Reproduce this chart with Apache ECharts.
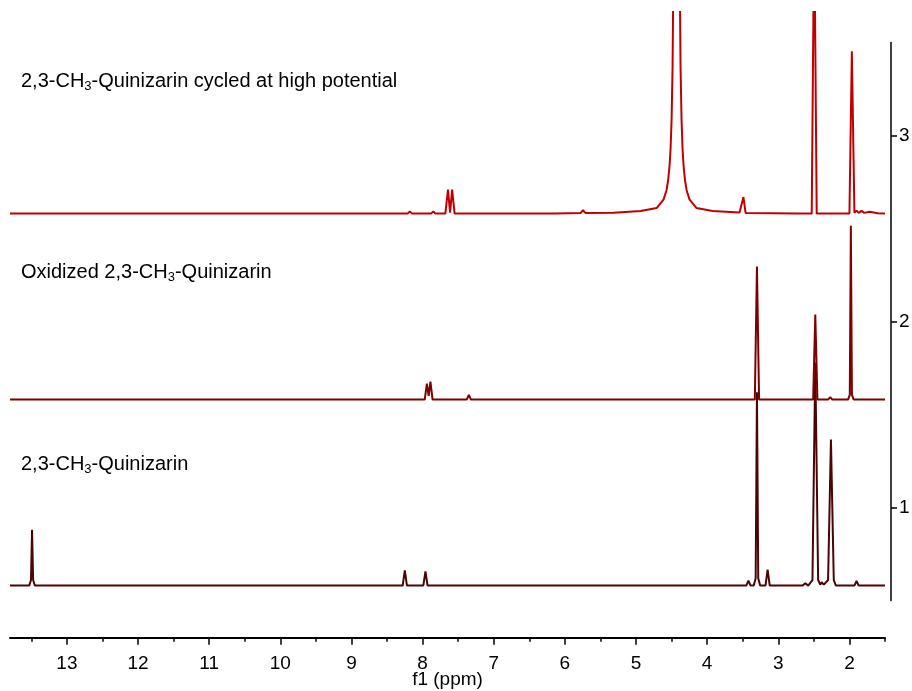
<!DOCTYPE html>
<html><head><meta charset="utf-8">
<script src="https://cdn.jsdelivr.net/npm/echarts@6/dist/echarts.min.js"></script>
<style>html,body{margin:0;padding:0;background:#fff}#c{width:912px;height:691px}</style>
</head><body><div id="c"></div>
<script>
// x-axis tick values (ppm)
const ppmMajorTicks = [2, 3, 4, 5, 6, 7, 8, 9, 10, 11, 12, 13];
const ppmMinorTicks = [1.5, 2.5, 3.5, 4.5, 5.5, 6.5, 7.5, 8.5, 9.5, 10.5, 11.5, 12.5, 13.5];
const offsetTicks = [1, 2, 3];

// trace labels (bottom to top)
const traceNames = ['2,3-CH3-Quinizarin', 'Oxidized 2,3-CH3-Quinizarin', '2,3-CH3-Quinizarin cycled at high potential'];
// stacking offsets of each trace baseline
const traceBaselines = [0.58, 1.58, 2.58];

// [ppm, intensity above its baseline]
const trace1 = [
  [13.8,0],[13.53,0],[13.505,0.03],[13.49,0.30],[13.475,0.03],[13.45,0],
  [8.28,0],[8.25,0.082],[8.22,0],
  [7.99,0],[7.96,0.076],[7.93,0],
  [3.45,0],[3.42,0.027],[3.39,0],
  [3.345,0],[3.318,0.04],[3.30,1.04],[3.282,0.04],[3.255,0],
  [3.18,0],[3.15,0.086],[3.12,0],
  [2.66,0],[2.62,0.013],[2.58,0],
  [2.52,0.03],[2.48,1.20],[2.44,0.03],[2.41,0.005],[2.39,0.018],[2.36,0.005],
  [2.30,0.03],[2.26,0.785],[2.22,0.03],[2.19,0],
  [1.93,0],[1.90,0.025],[1.87,0],[1.5,0]
];
const trace2 = [
  [13.8,0],[7.97,0],[7.94,0.086],[7.915,0.02],[7.89,0.097],[7.86,0],
  [7.38,0],[7.35,0.025],[7.32,0],
  [3.33,0],[3.30,0.715],[3.27,0],
  [2.51,0],[2.48,0.457],[2.45,0],
  [2.30,0],[2.27,0.013],[2.24,0],
  [2.02,0],[1.995,0.025],[1.98,0.935],[1.965,0.025],[1.94,0],[1.5,0]
];
const trace3 = [
  [13.8,0],[8.21,0],[8.18,0.012],[8.15,0],[7.88,0],[7.85,0.012],[7.82,0],
  [7.68,0],[7.643,0.129],[7.614,0.005],[7.585,0.129],[7.55,0],
  [6.12,0],[5.78,0.003],[5.745,0.018],[5.71,0.003],
  [5.315,0.005],[4.936,0.014],[4.711,0.03],[4.613,0.075],[4.571,0.126],[4.549,0.178],[4.528,0.26],
  [4.514,0.35],[4.5,0.505],[4.486,0.79],[4.472,1.4],[4.43,4.0],
  [4.388,1.4],[4.374,0.79],[4.36,0.505],[4.346,0.35],[4.332,0.26],[4.311,0.178],[4.289,0.126],
  [4.247,0.075],[4.149,0.03],[3.924,0.014],[3.545,0.006],
  [3.52,0.005],[3.49,0.089],[3.46,0.004],
  [2.74,0],[2.53,0],[2.495,1.6],[2.46,0],
  [2.0,0],[1.966,0.873],[1.93,0.005],[1.9,0.016],[1.87,0.004],[1.83,0.015],[1.79,0.004],
  [1.72,0.01],[1.6,0.002],[1.5,0]
];

const traces = [trace1, trace2, trace3];
const colors = ['#4c0505', '#7f0000', '#c00000'];
const labelY = [466, 274, 83];
const FONT = 'Arial, "Liberation Sans", sans-serif';

function richName(name) {
  return name.split('CH3').map(s => '{m|' + s + '}').join('{m|CH}{s|3}');
}

const chart = echarts.init(document.getElementById('c'), null, {renderer: 'canvas'});
chart.setOption({
  animation: false,
  backgroundColor: '#fff',
  grid: [
    {left: 10, right: 27, top: 12, bottom: 53.3, outerBoundsMode: 'none', containLabel: false},
    {left: 10, right: 21, top: 42.5, bottom: 90.5, outerBoundsMode: 'none', containLabel: false}
  ],
  xAxis: [
    {gridIndex: 0, type: 'value', inverse: true, min: 1.5, max: 13.8, position: 'bottom',
     axisLine: {show: true, onZero: false, lineStyle: {color: '#000', width: 2}},
     axisTick: {show: true, customValues: ppmMinorTicks, length: 4, lineStyle: {color: '#000', width: 1.5}},
     axisLabel: {show: false}, splitLine: {show: false}},
    {gridIndex: 0, type: 'value', inverse: true, min: 1.5, max: 13.8, position: 'bottom',
     axisLine: {show: false, onZero: false},
     axisTick: {show: true, customValues: ppmMajorTicks, length: 7, lineStyle: {color: '#000', width: 1.5}},
     axisLabel: {show: true, customValues: ppmMajorTicks, fontSize: 19, color: '#000', margin: 17, fontFamily: FONT},
     name: 'f1 (ppm)', nameLocation: 'middle', nameGap: 33, nameMoveOverlap: false,
     nameTextStyle: {fontSize: 19, color: '#000', fontFamily: FONT},
     splitLine: {show: false}},
    {gridIndex: 1, type: 'value', min: 0, max: 1, show: false}
  ],
  yAxis: [
    {gridIndex: 0, type: 'value', min: 0.3, max: 3.664, show: false},
    {gridIndex: 1, type: 'value', min: 0.5, max: 3.5, position: 'right',
     axisLine: {show: true, onZero: false, lineStyle: {color: '#000', width: 1.5}},
     axisTick: {show: true, customValues: offsetTicks, length: 6, lineStyle: {color: '#000', width: 1.5}},
     axisLabel: {show: true, customValues: offsetTicks, fontSize: 19, color: '#000', margin: 8, fontFamily: FONT},
     splitLine: {show: false}}
  ],
  series: traces.map((t, i) => ({
    type: 'line', xAxisIndex: 0, yAxisIndex: 0, showSymbol: false, symbol: 'none',
    clip: true, z: 3 + i,
    lineStyle: {color: colors[i], width: 2},
    data: t.map(p => [p[0], p[1] + traceBaselines[i]])
  })),
  graphic: traceNames.map((n, i) => ({
    type: 'text', left: 21, top: labelY[i] - 12,
    style: {
      text: richName(n),
      rich: {
        m: {fontSize: 20, lineHeight: 24, fontFamily: FONT, fill: '#000', verticalAlign: 'middle'},
        s: {fontSize: 13, lineHeight: 13, fontFamily: FONT, fill: '#000', verticalAlign: 'bottom'}
      }
    }
  }))
});
</script></body></html>
